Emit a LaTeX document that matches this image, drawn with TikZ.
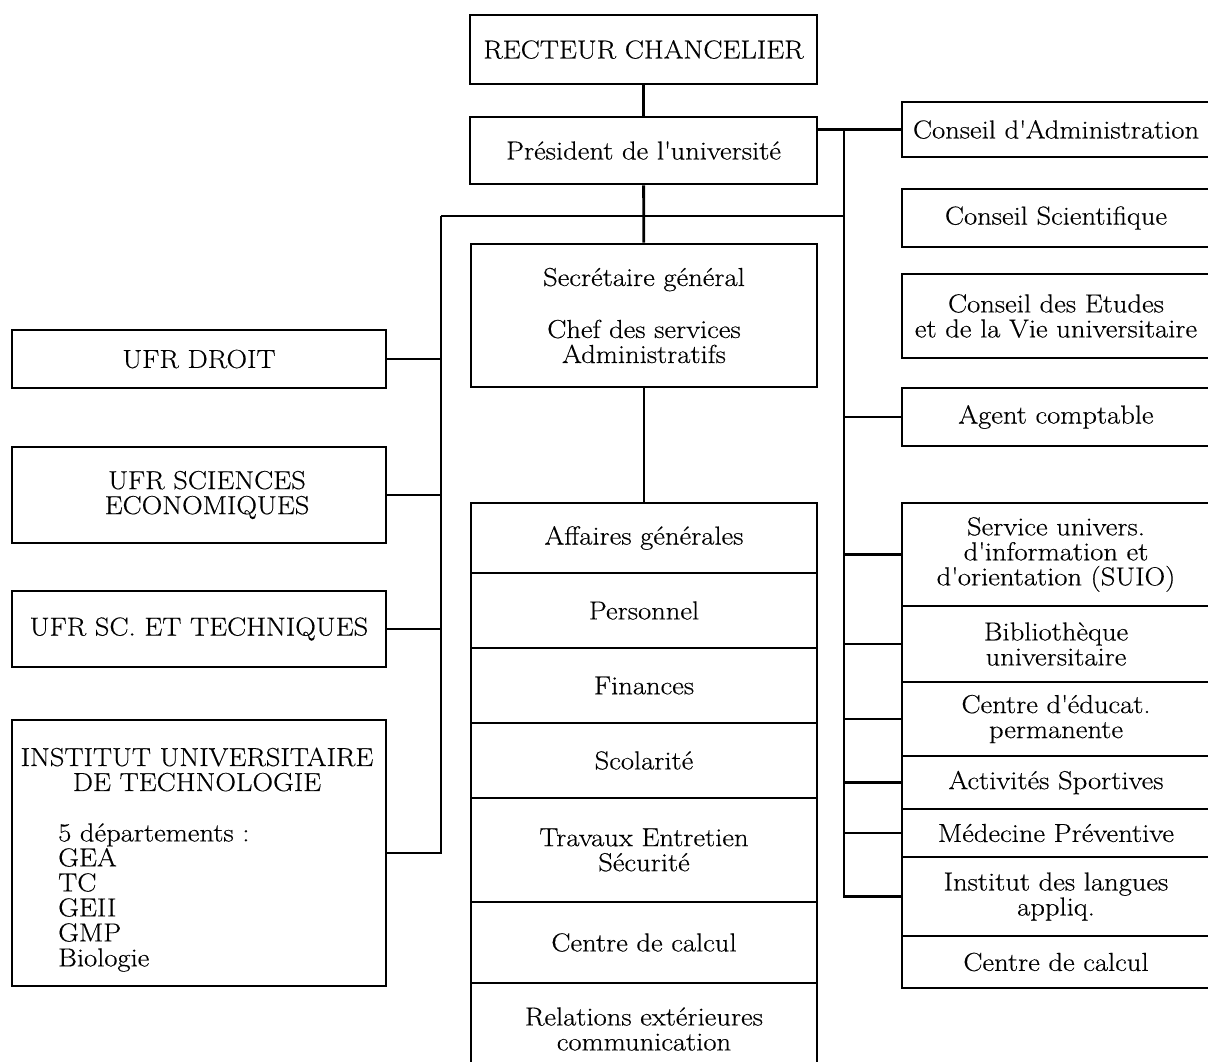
\documentclass[tikz,border=0pt]{standalone}
\usepackage{fontspec}
\setmainfont{Latin Modern Roman}[FakeStretch=1.1, FakeBold=0.4]
\usetikzlibrary{calc}
\newcommand\aq{\textquotesingle}
\tikzset{
  box/.style={draw, line width=2.8pt, inner sep=0pt, align=center,
    font=\fontsize{26}{25}\selectfont},
  plain/.style={inner sep=0pt, font=\fontsize{26}{25}\selectfont},
  link/.style={line width=2.8pt, line join=miter},
}
\begin{document}
\begin{tikzpicture}[x=1pt,y=-1pt]
\useasboundingbox (0,0) rectangle (1208,1062);
\fill[white] (0,0) rectangle (1208,1062);
% top
\node[box, minimum width=347pt, minimum height=69pt] (rect) at (643.5,49.5) {RECTEUR CHANCELIER};
\node[box, minimum width=347pt, minimum height=67pt] (pres) at (643.5,150.5) {Président de l\aq université};
\node[box, minimum width=346pt, minimum height=143pt] (sec) at (644,315.5) {Secrétaire général\\[27pt]Chef des services\\Administratifs};
% central stack
\node[box, minimum width=346pt, minimum height=70pt] (aff) at (644,538) {Affaires générales};
\node[box, minimum width=346pt, minimum height=75pt] (pers) at (644,610.5) {Personnel};
\node[box, minimum width=346pt, minimum height=75pt] (fin) at (644,685.5) {Finances};
\node[box, minimum width=346pt, minimum height=75pt] (scol) at (644,760.5) {Scolarité};
\node[box, minimum width=346pt, minimum height=104pt] (trav) at (644,850) {Travaux Entretien\\Sécurité};
\node[box, minimum width=346pt, minimum height=81pt] (ccal) at (644,942.5) {Centre de calcul};
\node[box, minimum width=346pt, minimum height=92pt] (rel) at (644,1029) {Relations extérieures\\communication};
% right column
\node[box, minimum width=308pt, minimum height=55pt] (cadm) at (1056,129.5) {Conseil d\aq Administration};
\node[box, minimum width=308pt, minimum height=58pt] (csci) at (1056,218) {Conseil Scientifique};
\node[box, minimum width=308pt, minimum height=84pt] (cetu) at (1056,316) {Conseil des Etudes\\et de la Vie universitaire};
\node[box, minimum width=308pt, minimum height=58pt] (agent) at (1056,417) {Agent comptable};
\node[box, minimum width=308pt, minimum height=103pt] (suio) at (1056,554.5) {Service univers.\\d\aq information et\\d\aq orientation (SUIO)};
\node[box, minimum width=308pt, minimum height=76pt] (bib) at (1056,644) {Bibliothèque\\universitaire};
\node[box, minimum width=308pt, minimum height=74pt] (cep) at (1056,719) {Centre d\aq éducat.\\permanente};
\node[box, minimum width=308pt, minimum height=53pt] (act) at (1056,782.5) {Activités Sportives};
\node[box, minimum width=308pt, minimum height=48pt] (med) at (1056,833) {Médecine Préventive};
\node[box, minimum width=308pt, minimum height=79pt] (ila) at (1056,896.5) {Institut des langues\\appliq.};
\node[box, minimum width=308pt, minimum height=52pt] (ccr) at (1056,962) {Centre de calcul};
% left column
\node[box, minimum width=374pt, minimum height=58pt] (droit) at (199,359) {UFR DROIT};
\node[box, minimum width=374pt, minimum height=96pt] (eco) at (199,495) {\hspace*{16pt}UFR SCIENCES\\\hspace*{16pt}ECONOMIQUES};
\node[box, minimum width=374pt, minimum height=76pt] (tech) at (199,629) {UFR SC. ET TECHNIQUES};
\node[box, minimum width=374pt, minimum height=266pt] (iut) at (199,853) {};
\node[plain, align=center] (iuttitle) at (197,769.5) {INSTITUT UNIVERSITAIRE\\DE TECHNOLOGIE};
\node[plain, align=left, anchor=west] (iutlist) at (58,897.5) {5 départements :\\GEA\\TC\\GEII\\GMP\\Biologie};
% connectors
\coordinate (tl) at (441,216);
\coordinate (tr) at (844,216);
\draw[link] (rect) -- (pres);
\draw[link] (pres) -- (sec);
\draw[link] (sec) -- (aff);
\draw[link] (cadm.west) -- (cadm.west -| pres.east);
\draw[link] (tl) -- (tr);
\draw[link] (cadm.west -| tr) -- (ila.west -| tr) -- (ila.west);
\foreach \n in {agent,suio,bib,cep,act,med}
  \draw[link] (\n.west) -- (\n.west -| tr);
\draw[link] (tl) -- (iut.east -| tl) -- (iut.east);
\foreach \n in {droit,eco,tech}
  \draw[link] (\n.east) -- (\n.east -| tl);
\end{tikzpicture}
\end{document}
